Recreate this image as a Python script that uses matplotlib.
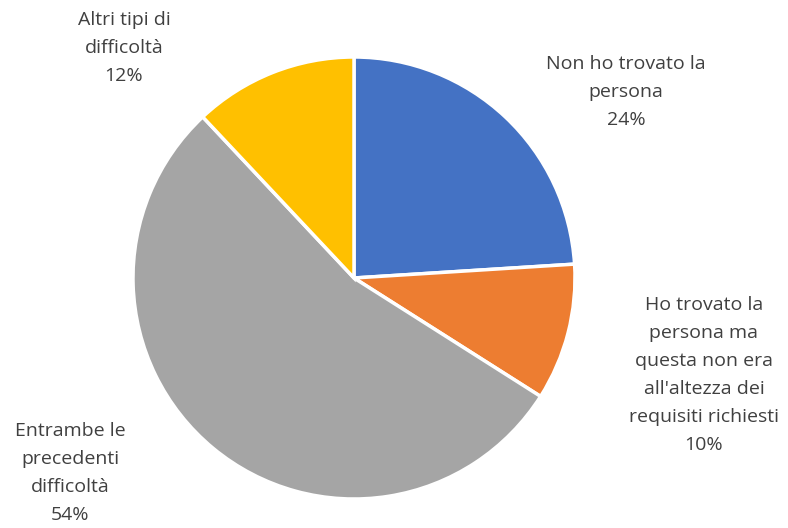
import matplotlib
matplotlib.use('Agg')
import matplotlib.pyplot as plt

categories = ['Non ho trovato la\npersona',
              "Ho trovato la\npersona ma\nquesta non era\nall'altezza dei\nrequisiti richiesti",
              'Entrambe le\nprecedenti\ndifficoltà',
              'Altri tipi di\ndifficoltà']
values = [24, 10, 54, 12]
colors = ['#4472C4', '#ED7D31', '#A5A5A5', '#FFC000']

# label anchor points in pixels (x, y from top)
label_pos = [(626, 92), (704, 375), (70, 473), (124, 48)]

W, H = 788, 528
fig = plt.figure(figsize=(W / 100, H / 100), dpi=100)
ax = fig.add_axes([0, 0, 1, 1])
ax.axis('off')

ax.pie(values, colors=colors, startangle=90, counterclock=False,
       center=(354, H - 278), radius=221,
       wedgeprops=dict(edgecolor='white', linewidth=2.5))
ax.set_xlim(0, W)
ax.set_ylim(0, H)
ax.set_aspect('auto')

for cat, v, (x, y) in zip(categories, values, label_pos):
    ax.text(x, H - y, f'{cat}\n{v}%', ha='center', va='center',
            fontsize=14, color='#404040', linespacing=1.72,
            family='Open Sans')

fig.savefig('out.png', dpi=100)
